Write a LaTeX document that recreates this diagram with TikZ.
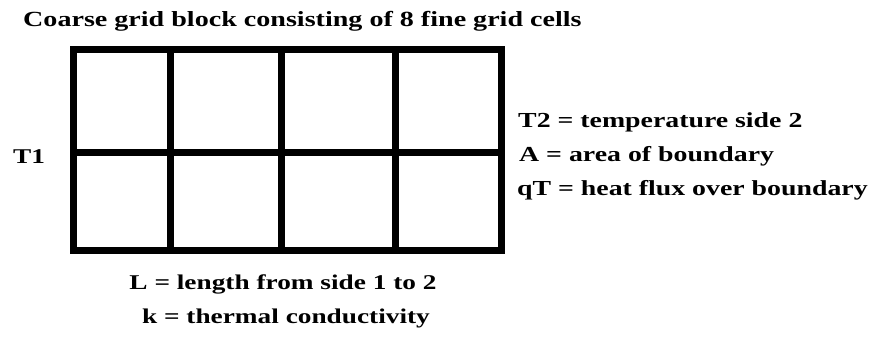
\documentclass[tikz,border=0pt]{standalone}
\usepackage{fontspec}
\setmainfont{Liberation Serif}[FakeStretch=1.3]
\begin{document}
\begin{tikzpicture}[x=1pt,y=-1pt,
  lbl/.style={font=\bfseries\fontsize{21}{24}\selectfont, inner sep=0pt},
  rlbl/.style={font=\bfseries\fontsize{21.4}{24}\selectfont, inner sep=0pt, anchor=base west},
  ttl/.style={font=\bfseries\fontsize{21.6}{24}\selectfont, inner sep=0pt},
  gridline/.style={line width=7pt, draw=black}]
\useasboundingbox (0,0) rectangle (878,337);
\fill[white] (0,0) rectangle (878,337);
% grid
\draw[gridline] (73.5,50) rectangle (501,250);
\draw[gridline] (73.5,152) -- (501,152);
\draw[gridline] (170,50) -- (170,250);
\draw[gridline] (281,50) -- (281,250);
\draw[gridline] (395,50) -- (395,250);
% texts
\node[ttl, anchor=base west] (title) at (23,27) {Coarse grid block consisting of 8 fine grid cells};
\node[lbl, anchor=base west] (t1) at (13,163) {T1};
\node[rlbl] (t2) at (518,127) {T2 = temperature side 2};
\node[rlbl] (a) at (519,161) {A = area of boundary};
\node[rlbl] (qt) at (517,195) {qT = heat flux over boundary};
\node[lbl, anchor=base] (l) at (283,289) {L = length from side 1 to 2};
\node[lbl, anchor=base] (k) at (286,323) {k = thermal conductivity};
\end{tikzpicture}
\end{document}
